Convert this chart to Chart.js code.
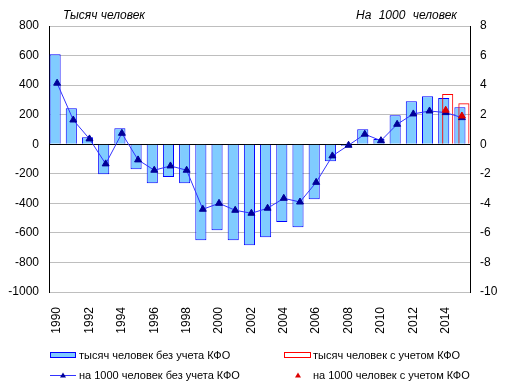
<!DOCTYPE html>
<html lang="ru">
<head>
<meta charset="utf-8">
<script src="https://cdn.jsdelivr.net/npm/chart.js@4.4.1/dist/chart.umd.min.js"></script>
<style>
  body { margin: 0; background: #fff; font-family: "Liberation Sans", Arial, sans-serif; }
  #wrap { position: relative; width: 517px; height: 391px; }
  #wrap canvas { position: absolute; left: 0; top: 0; }
  .t { position: absolute; font-size: 11px; line-height: 13px; white-space: nowrap; color: #000; }
  .ttl { font-style: italic; font-size: 12px; line-height: 14px; }
  .sw { position: absolute; box-sizing: border-box; }
</style>
</head>
<body>
<div id="wrap">
  <canvas id="grafico" width="517" height="391"></canvas>

  <div class="t ttl" style="left:63px;top:8px">Тысяч человек</div>
  <div class="t ttl" style="right:60px;top:8px;word-spacing:4px">На 1000 человек</div>

  <!-- legenda -->
  <div class="sw" style="left:50px;top:352px;width:26px;height:6px;background:#80CCFF;border:1px solid #0000FF"></div>
  <div class="t" style="left:79px;top:349px">тысяч человек без учета КФО</div>
  <div class="sw" style="left:284px;top:352px;width:27px;height:6px;border:1px solid #FF0000"></div>
  <div class="t" style="left:313px;top:349px">тысяч человек с учетом КФО</div>

  <svg class="sw" style="left:50px;top:371px" width="26" height="9">
    <line x1="0" y1="4.5" x2="26" y2="4.5" stroke="#3333FF" stroke-width="1"/>
    <polygon points="13,1.5 16,6.5 10,6.5" fill="#000099"/>
  </svg>
  <div class="t" style="left:79px;top:369px">на 1000 человек без учета КФО</div>
  <svg class="sw" style="left:294px;top:371px" width="8" height="9">
    <polygon points="4,1.5 7,6.5 1,6.5" fill="#DD0000"/>
  </svg>
  <div class="t" style="left:313px;top:369px">на 1000 человек с учетом КФО</div>
</div>

<script>
const anos = ["1990","1991","1992","1993","1994","1995","1996","1997","1998","1999","2000","2001","2002",
              "2003","2004","2005","2006","2007","2008","2009","2010","2011","2012","2013","2014","2015"];

// тысяч человек
const milSemKFO = [608, 244, 47, -203, 108, -169, -264, -222, -264, -650, -582, -650, -683,
                   -629, -527, -562, -372, -115, -10, 101, 36, 196, 291, 325, 313, 250];
const milComKFO = [null, null, null, null, null, null, null, null, null, null, null, null, null,
                   null, null, null, null, null, null, null, null, null, null, null, 340, 277];

// на 1000 человек
const taxaSemKFO = [4.13, 1.64, 0.36, -1.33, 0.74, -1.06, -1.76, -1.47, -1.76, -4.4, -4.0, -4.47, -4.67,
                    -4.33, -3.66, -3.91, -2.58, -0.79, -0.07, 0.68, 0.24, 1.35, 2.05, 2.25, 2.14, 1.8];
const taxaComKFO = [null, null, null, null, null, null, null, null, null, null, null, null, null,
                    null, null, null, null, null, null, null, null, null, null, null, 2.3, 1.91];

const vazio = anos.map(() => null);

const fonte = { family: "'Liberation Sans', Arial, sans-serif", size: 12 };

const barraBase = {
  type: "bar",
  yAxisID: "y",
  borderWidth: 1,
  barPercentage: 2.8,
  categoryPercentage: 0.49
};

new Chart(document.getElementById("grafico"), {
  data: {
    labels: anos,
    datasets: [
      { type: "line", data: taxaComKFO, yAxisID: "y1", order: 0,
        showLine: false, pointStyle: "triangle", pointRadius: 4,
        pointBackgroundColor: "#DD0000", pointBorderColor: "#DD0000", pointBorderWidth: 1 },
      { type: "line", data: taxaSemKFO, yAxisID: "y1", order: 1,
        borderColor: "#3333FF", borderWidth: 1, tension: 0,
        pointStyle: "triangle", pointRadius: 4,
        pointBackgroundColor: "#000099", pointBorderColor: "#000099", pointBorderWidth: 1 },
      // vazio: só garante que a pilha "a" (azul) fique à esquerda no grupo
      { ...barraBase, data: vazio, stack: "a", order: 2 },
      { ...barraBase, data: milComKFO, stack: "b", order: 3,
        backgroundColor: "rgba(0,0,0,0)", borderColor: "#FF0000" },
      { ...barraBase, data: milSemKFO, stack: "a", order: 4,
        backgroundColor: "#80CCFF", borderColor: "#0000FF" }
    ]
  },
  options: {
    responsive: false,
    animation: false,
    layout: { padding: { top: 26, left: 0, right: 0, bottom: 0 } },
    plugins: { legend: { display: false }, tooltip: { enabled: false } },
    scales: {
      x: {
        type: "category",
        offset: true,
        grid: { display: false },
        border: { display: false },
        ticks: {
          autoSkip: false, minRotation: 90, maxRotation: 90, padding: 7,
          color: "#000", font: fonte,
          callback: (v, i) => (i % 2 === 0 ? anos[i] : "")
        },
        afterFit: s => { s.height = 99; }
      },
      y: {
        position: "left",
        stacked: false,
        min: -1000, max: 800,
        ticks: { stepSize: 200, color: "#000", font: fonte, padding: 10, callback: v => String(v) },
        grid: {
          drawTicks: false,
          color: c => (c.tick && c.tick.value === 0 ? "#000000" : "#BEBEBE")
        },
        border: { color: "#000000" },
        afterFit: s => { s.width = 49; }
      },
      y1: {
        position: "right",
        min: -10, max: 8,
        ticks: { stepSize: 2, color: "#000", font: fonte, padding: 10, callback: v => String(v) },
        grid: { drawOnChartArea: false, drawTicks: false },
        border: { color: "#000000" },
        afterFit: s => { s.width = 47; }
      }
    }
  }
});
</script>
</body>
</html>
